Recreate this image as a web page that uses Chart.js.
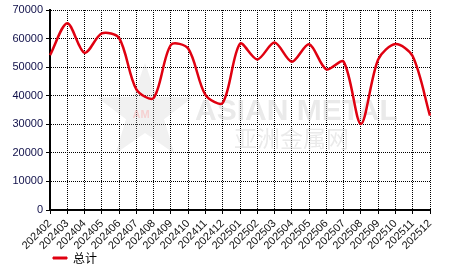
<!DOCTYPE html>
<html>
<head>
<meta charset="utf-8">
<script src="https://cdn.jsdelivr.net/npm/chart.js@4/dist/chart.umd.min.js"></script>
<style>
  html, body { margin: 0; padding: 0; background: #fff; }
  #wrap { width: 466px; height: 272px; }
</style>
</head>
<body>
<div id="wrap"><canvas id="chart" width="466" height="272"></canvas></div>
<script>
const months = ["202402","202403","202404","202405","202406","202407","202408","202409","202410","202411","202412",
                "202501","202502","202503","202504","202505","202506","202507","202508","202509","202510","202511","202512"];
const totals = [54200, 65400, 55000, 61800, 60200, 42200, 39200, 57800, 56500, 40300, 37500,
                58200, 52700, 58600, 51900, 58000, 49200, 51900, 30100, 52700, 58100, 53800, 33000];
const seriesName = "总计";
const yTicks = [0, 10000, 20000, 30000, 40000, 50000, 60000, 70000];

// faint watermark behind the line
const watermark = {
    id: "watermark",
    beforeDatasetsDraw(chart){
        const ctx = chart.ctx;
        ctx.save();
        // star
        ctx.fillStyle = "rgba(200,200,200,0.25)";
        ctx.beginPath();
        const cx = 145, cy = 113, ro = 50, ri = 20;
        for(let i = 0; i < 10; i++){
            const r = i % 2 ? ri : ro;
            const a = -Math.PI / 2 + i * Math.PI / 5;
            const px = cx + r * Math.cos(a), py = cy + r * Math.sin(a);
            if(i === 0) ctx.moveTo(px, py); else ctx.lineTo(px, py);
        }
        ctx.closePath();
        ctx.fill();
        ctx.fillStyle = "rgba(255,150,150,0.35)";
        ctx.font = "bold 11px 'Liberation Sans', Arial, sans-serif";
        ctx.textAlign = "center";
        ctx.textBaseline = "middle";
        ctx.fillText("AM", cx - 4, cy + 2);
        ctx.fillStyle = "rgba(205,205,205,0.42)";
        ctx.textAlign = "left";
        ctx.textBaseline = "alphabetic";
        ctx.font = "bold 30px 'Liberation Sans', Arial, sans-serif";
        ctx.fillText("ASIAN METAL", 195, 120);
        ctx.font = "23px 'Noto Sans CJK SC', sans-serif";
        ctx.fillText("亚洲金属网", 234, 147);
        ctx.restore();
    }
};

// put the legend under the plot, left side
const legendShift = {
    id: "legendShift",
    afterLayout(chart){
        chart.legend.left = 51;
        chart.legend.top = 250;
    }
};

new Chart(document.getElementById("chart"), {
    type: "line",
    data: {
        labels: months,
        datasets: [{
            label: seriesName,
            data: totals,
            borderColor: "#e00010",
            backgroundColor: "#e00010",
            borderWidth: 2.5,
            pointRadius: 0,
            tension: 0.3,
            fill: false
        }]
    },
    options: {
        responsive: false,
        animation: false,
        layout: { padding: { top: 10, right: 36, left: 0, bottom: -3 } },
        plugins: {
            legend: {
                position: "bottom",
                align: "start",
                labels: {
                    boxWidth: 14,
                    boxHeight: 2,
                    padding: 2,
                    color: "#000",
                    font: { size: 12, family: "'Noto Sans CJK SC', sans-serif" },
                    generateLabels(chart){
                        const items = Chart.defaults.plugins.legend.labels.generateLabels(chart);
                        items.forEach(it => { it.lineWidth = 1; });
                        return items;
                    }
                }
            },
            tooltip: { enabled: false }
        },
        scales: {
            x: {
                grid: { color: "#000", lineWidth: 1, tickLength: 4, drawOnChartArea: true },
                border: { color: "#000", width: 2, dash: [1, 1] },
                ticks: {
                    autoSkip: false,
                    minRotation: 45,
                    maxRotation: 45,
                    padding: 3,
                    color: "#111",
                    font: { size: 11, family: "'Liberation Sans', Arial, sans-serif" }
                },
                afterFit(scale){ scale.height = 41; }
            },
            y: {
                min: 0,
                max: 70000,
                afterBuildTicks(scale){ scale.ticks = yTicks.map(v => ({ value: v })); },
                grid: { color: "#000", lineWidth: 1, tickLength: 4 },
                border: { color: "#000", width: 2, dash: [1, 1] },
                ticks: {
                    padding: 3,
                    color: "#10104a",
                    font: { size: 11, family: "'Liberation Sans', Arial, sans-serif" },
                    callback: v => String(v)
                },
                afterFit(scale){ scale.width = 50; }
            }
        }
    },
    plugins: [watermark, legendShift]
});
</script>
</body>
</html>
